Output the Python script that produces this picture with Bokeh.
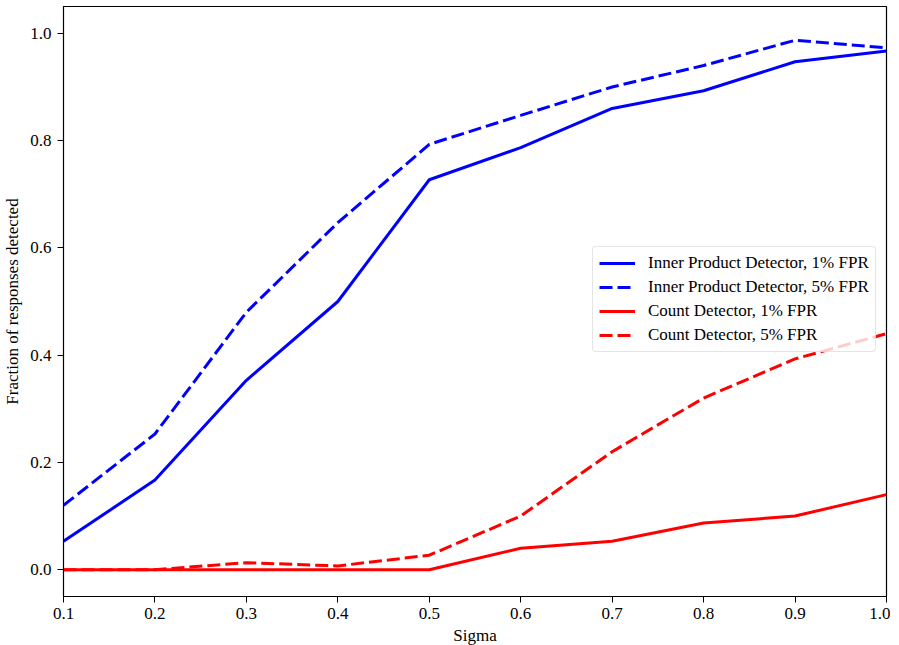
from bokeh.plotting import figure
from bokeh.models import Range1d, FixedTicker, PrintfTickFormatter, Legend, LegendItem
from bokeh.embed import file_html
from bokeh.resources import INLINE

sigma = [0.1, 0.2, 0.3, 0.4, 0.5, 0.6, 0.7, 0.8, 0.9, 1.0]
inner_1 = [0.053, 0.167, 0.353, 0.500, 0.727, 0.787, 0.860, 0.893, 0.947, 0.967]
inner_5 = [0.120, 0.253, 0.480, 0.647, 0.793, 0.847, 0.900, 0.940, 0.987, 0.973]
count_1 = [0.0, 0.0, 0.0, 0.0, 0.0, 0.040, 0.053, 0.087, 0.100, 0.140]
count_5 = [0.0, 0.0, 0.013, 0.007, 0.027, 0.100, 0.220, 0.320, 0.393, 0.440]

labels = ["Inner Product Detector, 1% FPR", "Inner Product Detector, 5% FPR",
          "Count Detector, 1% FPR", "Count Detector, 5% FPR"]
x_ticks = [0.1, 0.2, 0.3, 0.4, 0.5, 0.6, 0.7, 0.8, 0.9, 1.0]
y_ticks = [0.0, 0.2, 0.4, 0.6, 0.8, 1.0]

FONT = "Liberation Serif"
FS = "17px"

p = figure(frame_width=823, frame_height=590, output_backend="svg", toolbar_location=None,
           x_range=Range1d(0.1, 1.0), y_range=Range1d(-0.05, 1.05),
           min_border_left=58, min_border_right=4, min_border_top=6, min_border_bottom=0)
p.outline_line_color = "black"
p.outline_line_width = 1.2
p.xgrid.visible = False
p.ygrid.visible = False
p.background_fill_color = "white"
p.border_fill_color = "white"

for ax, ticks in ((p.xaxis, x_ticks), (p.yaxis, y_ticks)):
    ax.ticker = FixedTicker(ticks=ticks)
    ax.formatter = PrintfTickFormatter(format="%.1f")
    ax.minor_tick_line_color = None
    ax.major_tick_out = 6
    ax.major_tick_in = 0
    ax.major_tick_line_color = "black"
    ax.axis_line_color = "black"
    ax.major_label_text_font = FONT
    ax.major_label_text_font_size = FS
    ax.major_label_text_color = "black"
    ax.axis_label_text_font = FONT
    ax.axis_label_text_font_size = FS
    ax.axis_label_text_font_style = "normal"
    ax.axis_label_text_color = "black"

p.xaxis.axis_label = "Sigma"
p.yaxis.axis_label = "Fraction of responses detected"
p.xaxis.major_label_standoff = 5
p.xaxis.axis_label_standoff = 4
p.yaxis.major_label_standoff = 6
p.yaxis.axis_label_standoff = 5

r1 = p.line(sigma, inner_1, line_color="#0000ff", line_width=3, line_join="round")
r2 = p.line(sigma, inner_5, line_color="#0000ff", line_width=3, line_dash="13 5", line_join="round")
r3 = p.line(sigma, count_1, line_color="#ff0000", line_width=3, line_join="round")
r4 = p.line(sigma, count_5, line_color="#ff0000", line_width=3, line_dash="13 5", line_join="round")

legend = Legend(items=[LegendItem(label=l, renderers=[r]) for l, r in zip(labels, [r1, r2, r3, r4])],
                location=(529, 244))
legend.label_text_font = FONT
legend.label_text_font_size = FS
legend.label_text_color = "black"
legend.glyph_width = 36
legend.glyph_height = 20
legend.label_height = 20
legend.label_standoff = 13
legend.spacing = 4
legend.padding = 6
legend.margin = 0
legend.border_line_color = "#cccccc"
legend.border_line_width = 1
legend.border_radius = 4
legend.background_fill_color = "white"
legend.background_fill_alpha = 0.8
p.add_layout(legend, "center")

open("out.html", "w").write(file_html(p, INLINE))
